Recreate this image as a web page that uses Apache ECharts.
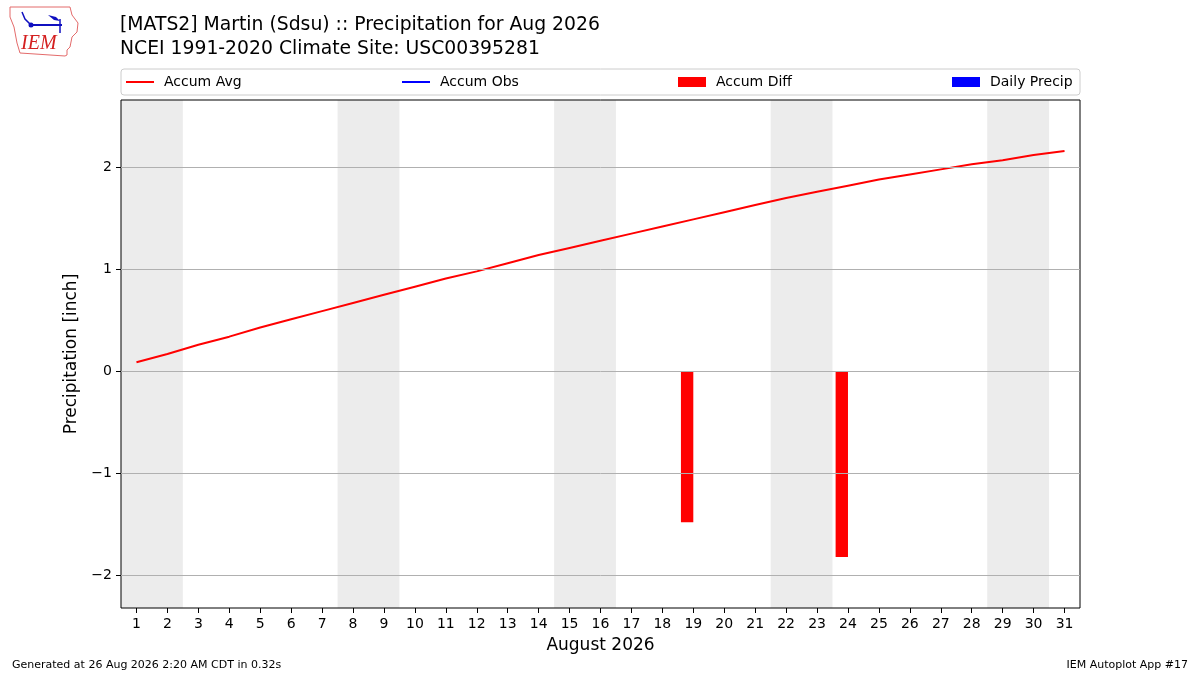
<!DOCTYPE html>
<html>
    <head>
        <meta charset="utf-8">
        <title>Precipitation for Aug 2026</title>
        <script src="https://cdn.jsdelivr.net/npm/echarts@6/dist/echarts.min.js"></script>
        <style>
            html, body { margin: 0; padding: 0; background: #fff; }
            #chart { width: 1200px; height: 675px; }
        </style>
    </head>
    <body>
        <div id="chart"></div>
    </body>
    <script>
        // 数据
        var days = [];
        for (var d = 1; d <= 31; d++) days.push(d);
        var accumAvg = [0.09, 0.17, 0.26, 0.34, 0.43, 0.51, 0.59, 0.67, 0.75, 0.83,
                        0.91, 0.98, 1.06, 1.14, 1.21, 1.28, 1.35, 1.42, 1.49, 1.56,
                        1.63, 1.70, 1.76, 1.82, 1.88, 1.93, 1.98, 2.03, 2.07, 2.12, 2.16];
        var diffDays = [19, 24];
        var accumDiff = [-1.48, -1.82];
        var weekendStart = [1, 8, 15, 22, 29];
        var weekendEnd = [2, 9, 16, 23, 30];
        var yTicks = [-2, -1, 0, 1, 2];
        var font = 'DejaVu Sans';

        var myChart = echarts.init(document.getElementById('chart'));

        function fmtMinus(v) {
            return v < 0 ? '\u2212' + Math.abs(v) : String(v);
        }

        // 柱子画在当天左侧 (day-0.4 .. day)
        function barItem(offL, offR) {
            return function (params, api) {
                var day = api.value(0);
                var p1 = api.coord([day + offL, 0]);
                var p2 = api.coord([day + offR, api.value(1)]);
                return {
                    type: 'rect',
                    shape: {
                        x: p1[0], y: Math.min(p1[1], p2[1]),
                        width: p2[0] - p1[0], height: Math.abs(p2[1] - p1[1])
                    },
                    style: api.style()
                };
            };
        }

        var areas = weekendStart.map(function (s, i) {
            return [{ xAxis: s - 0.5 }, { xAxis: weekendEnd[i] + 0.5 }];
        });

        function legendAt(name, left, line) {
            return {
                data: [name], left: left, top: 70, icon: 'rect',
                itemWidth: 28, itemHeight: line ? 2 : 10, itemGap: 0,
                textStyle: { fontFamily: font, fontSize: 14, color: '#000', padding: [0, 0, 0, 5] },
                selectedMode: false
            };
        }

        var tickStyle = { fontFamily: font, fontSize: 14, color: '#000', margin: 9 };

        myChart.setOption({
            animation: false,
            textStyle: { fontFamily: font },
            grid: {
                left: 121, right: 120, top: 100, bottom: 67,
                show: true, borderColor: '#000', borderWidth: 1
            },
            legend: [
                legendAt('Accum Avg', 121, true),
                legendAt('Accum Obs', 397, true),
                legendAt('Accum Diff', 673, false),
                legendAt('Daily Precip', 947, false)
            ],
            xAxis: {
                type: 'value', min: 0.5, max: 31.5,
                name: 'August 2026', nameLocation: 'middle', nameGap: 29,
                nameTextStyle: { fontFamily: font, fontSize: 17, color: '#000' },
                axisLine: { show: false, onZero: false },
                axisTick: { show: true, customValues: days, length: 5, lineStyle: { color: '#000' } },
                axisLabel: Object.assign({ customValues: days }, tickStyle),
                splitLine: { show: false }
            },
            yAxis: {
                type: 'value', min: -2.32, max: 2.66,
                name: 'Precipitation [inch]', nameLocation: 'middle', nameGap: 27,
                nameTextStyle: { fontFamily: font, fontSize: 17, color: '#000' },
                axisLine: { show: false, onZero: false },
                axisTick: { show: true, customValues: yTicks, length: 5, lineStyle: { color: '#000' } },
                axisLabel: Object.assign({ customValues: yTicks, formatter: fmtMinus }, tickStyle),
                splitLine: { show: false }
            },
            series: [
                {
                    name: 'grid', type: 'line', data: [], silent: true, z: 1,
                    markArea: { silent: true, itemStyle: { color: 'rgba(0,0,0,0.075)' }, data: areas },
                    markLine: {
                        silent: true, symbol: 'none', label: { show: false },
                        lineStyle: { color: '#b0b0b0', width: 1, type: 'solid' },
                        data: yTicks.map(function (v) { return { yAxis: v }; })
                    }
                },
                {
                    name: 'Accum Avg', type: 'line', symbol: 'none', z: 3,
                    itemStyle: { color: '#ff0000' }, lineStyle: { color: '#ff0000', width: 2 },
                    data: days.map(function (d, i) { return [d, accumAvg[i]]; })
                },
                {
                    name: 'Accum Obs', type: 'line', symbol: 'none', z: 3,
                    itemStyle: { color: '#0000ff' }, lineStyle: { color: '#0000ff', width: 2 },
                    data: []
                },
                {
                    name: 'Accum Diff', type: 'custom', z: 2,
                    itemStyle: { color: '#ff0000' },
                    renderItem: barItem(-0.4, 0),
                    data: diffDays.map(function (d, i) { return [d, accumDiff[i]]; })
                },
                {
                    name: 'Daily Precip', type: 'custom', z: 2,
                    itemStyle: { color: '#0000ff' },
                    renderItem: barItem(0, 0.4),
                    data: []
                }
            ],
            graphic: [
                // 图例外框
                { type: 'rect', shape: { x: 121, y: 69, width: 959, height: 26, r: 3 },
                  style: { fill: 'none', stroke: '#cccccc', lineWidth: 1 }, z: -1 },
                // 标题
                { type: 'text', left: 120, top: 16,
                  style: { text: '[MATS2] Martin (Sdsu) :: Precipitation for Aug 2026', font: '18.8px "DejaVu Sans"', fill: '#000' } },
                { type: 'text', left: 120, top: 40,
                  style: { text: 'NCEI 1991-2020 Climate Site: USC00395281', font: '18.8px "DejaVu Sans"', fill: '#000' } },
                // 页脚
                { type: 'text', left: 12, top: 660,
                  style: { text: 'Generated at 26 Aug 2026 2:20 AM CDT in 0.32s', font: '11px "DejaVu Sans"', fill: '#000' } },
                { type: 'text', right: 12, top: 660,
                  style: { text: 'IEM Autoplot App #17', font: '11px "DejaVu Sans"', fill: '#000' } },
                // IEM logo (简化)
                { type: 'polygon',
                  shape: { points: [[10,7],[70,7],[72,15],[78,23],[77,32],[72,37],[70,47],[67,50],[67,55],[65,56],[20,53],[17,43],[14,27],[10,17]] },
                  style: { fill: '#fff', stroke: '#e36a6a', lineWidth: 1 } },
                { type: 'polyline', shape: { points: [[31,25],[62,25]] }, style: { stroke: '#1010c0', lineWidth: 2 } },
                { type: 'polyline', shape: { points: [[22,12],[25,19],[31,25]] }, style: { stroke: '#1010c0', lineWidth: 1.5, fill: 'none' } },
                { type: 'polyline', shape: { points: [[60,19],[60,33]] }, style: { stroke: '#1010c0', lineWidth: 1.5 } },
                { type: 'polygon', shape: { points: [[48,15],[56,17],[60,21],[54,20]] }, style: { fill: '#1010c0' } },
                { type: 'circle', shape: { cx: 31, cy: 25, r: 2.5 }, style: { fill: '#1010c0' } },
                { type: 'text', left: 21, top: 34,
                  style: { text: 'IEM', font: 'italic 20px "Liberation Serif"', fill: '#d42020' } }
            ]
        });
    </script>
</html>
